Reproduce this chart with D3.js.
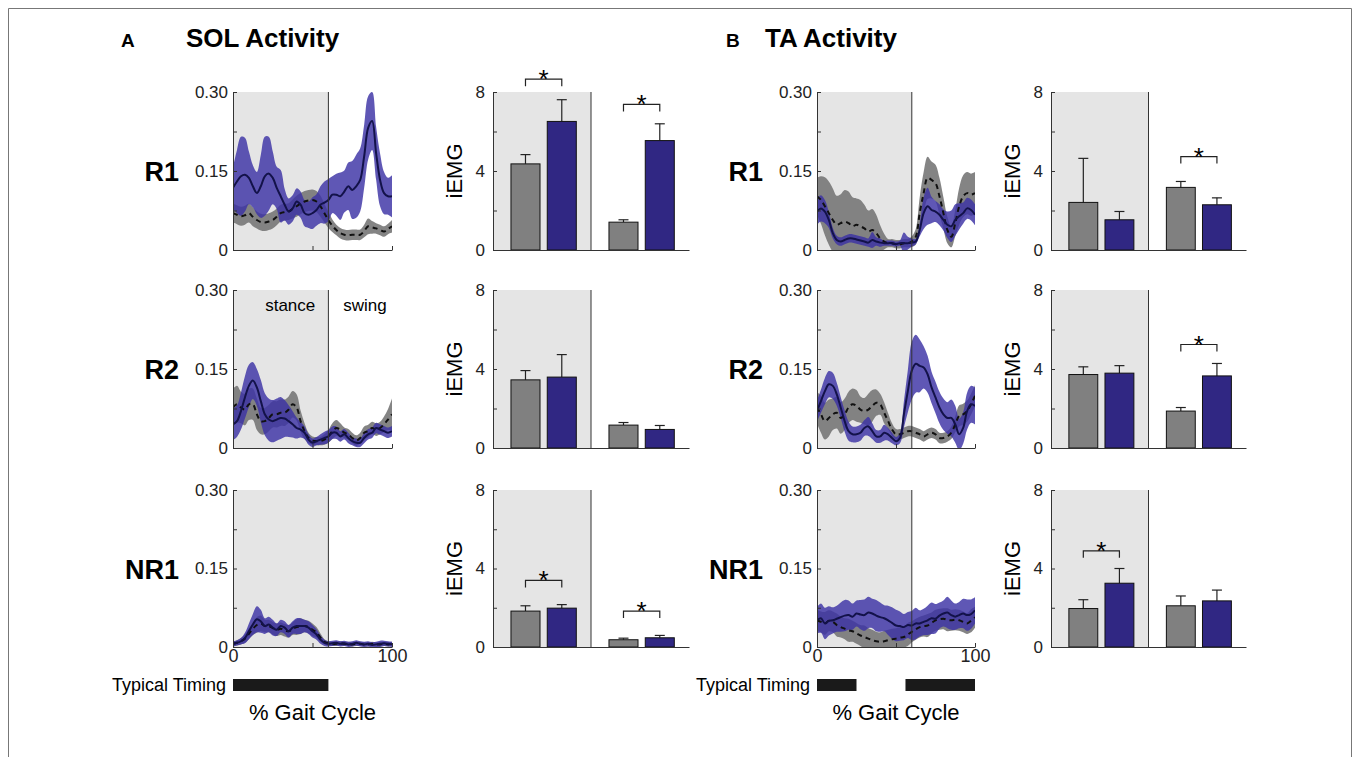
<!DOCTYPE html>
<html>
<head>
<meta charset="utf-8">
<script src="https://cdn.jsdelivr.net/npm/d3@7"></script>
<style>
  body { margin: 0; background: #fff; }
  svg { display: block; }
</style>
</head>
<body>
<svg id="fig" width="1360" height="757"></svg>
<script>
// % gait cycle sample points
const pct = [0, 2.5, 5, 7.5, 10, 12.5, 15, 17.5, 20, 22.5, 25, 27.5, 30, 32.5, 35, 37.5, 40, 42.5, 45, 47.5,
  50, 52.5, 55, 57.5, 60, 62.5, 65, 67.5, 70, 72.5, 75, 77.5, 80, 82.5, 85, 87.5, 90, 92.5, 95, 97.5, 100];

// ---- SOL EMG envelopes (mean and band half width) ----
const solR1BlueMean = [.118,.130,.140,.143,.137,.121,.108,.121,.140,.145,.137,.118,.102,.086,.073,.079,.092,.086,.070,.067,
  .070,.076,.086,.090,.095,.105,.105,.102,.111,.121,.114,.121,.133,.178,.232,.245,.184,.133,.108,.102,.102];
const solR1BlueSd = [.040,.060,.075,.070,.050,.040,.040,.060,.075,.070,.050,.040,.050,.030,.025,.025,.025,.025,.025,.025,
  .030,.030,.035,.040,.040,.035,.040,.045,.040,.045,.055,.060,.060,.060,.060,.055,.050,.050,.040,.035,.040];
const solR1GrayMean = [.070,.067,.064,.066,.070,.063,.057,.053,.052,.054,.057,.063,.070,.072,.073,.078,.083,.088,.092,.094,
  .095,.092,.083,.070,.057,.046,.038,.032,.029,.028,.029,.029,.029,.036,.045,.043,.041,.038,.035,.040,.045];
const solR1GraySd = [.018,.018,.018,.018,.018,.018,.016,.016,.016,.016,.016,.016,.016,.016,.016,.018,.020,.020,.020,.020,
  .020,.020,.020,.018,.015,.012,.010,.010,.010,.010,.010,.010,.010,.012,.015,.012,.010,.010,.010,.010,.012];

const solR2BlueMean = [.045,.051,.070,.096,.118,.128,.115,.089,.064,.054,.051,.054,.057,.056,.051,.045,.038,.035,.029,.016,
  .010,.013,.016,.019,.022,.029,.029,.022,.026,.019,.013,.010,.010,.019,.026,.029,.038,.035,.032,.029,.032];
const solR2BlueSd = [.030,.030,.035,.040,.040,.035,.035,.040,.040,.040,.040,.040,.040,.035,.030,.025,.020,.015,.012,.010,
  .008,.008,.010,.012,.012,.012,.012,.010,.010,.010,.008,.008,.008,.010,.010,.010,.010,.010,.010,.010,.010];
const solR2GrayMean = [.077,.083,.077,.073,.083,.083,.064,.051,.051,.057,.064,.064,.067,.067,.073,.083,.077,.051,.032,.019,
  .014,.013,.013,.016,.022,.032,.038,.035,.029,.026,.019,.014,.019,.029,.032,.038,.035,.038,.045,.054,.064];
const solR2GraySd = [.035,.035,.030,.030,.030,.030,.030,.025,.025,.025,.025,.025,.025,.025,.025,.025,.025,.020,.015,.010,
  .008,.008,.008,.010,.012,.015,.015,.012,.010,.010,.010,.010,.010,.012,.012,.012,.012,.012,.015,.020,.030];

const solNR1BlueMean = [.006,.008,.011,.017,.030,.043,.053,.049,.040,.043,.037,.033,.040,.037,.030,.037,.040,.040,.040,.037,
  .030,.024,.014,.008,.006,.007,.008,.006,.007,.005,.006,.008,.006,.005,.006,.004,.005,.006,.007,.006,.005];
const solNR1BlueSd = [.005,.005,.006,.010,.015,.020,.025,.022,.015,.015,.015,.012,.012,.012,.012,.012,.015,.015,.012,.012,
  .012,.010,.008,.006,.005,.005,.005,.005,.005,.005,.005,.005,.005,.005,.005,.005,.005,.006,.005,.005,.005];
const solNR1GrayMean = [.006,.008,.011,.016,.025,.035,.042,.045,.040,.040,.036,.033,.035,.032,.030,.035,.038,.040,.040,.038,
  .033,.028,.018,.010,.007,.006,.006,.007,.006,.006,.005,.006,.006,.005,.005,.006,.005,.005,.006,.005,.006];
const solNR1GraySd = [.004,.005,.006,.008,.010,.012,.015,.015,.012,.012,.012,.012,.012,.012,.012,.012,.015,.015,.012,.012,
  .012,.010,.008,.005,.004,.004,.004,.004,.004,.004,.004,.004,.004,.004,.004,.004,.004,.004,.004,.004,.004];

// ---- TA EMG envelopes ----
const taR1BlueMean = [.073,.079,.073,.057,.032,.019,.016,.019,.022,.022,.020,.018,.016,.014,.019,.016,.014,.013,.013,.013,
  .011,.013,.013,.013,.014,.016,.038,.070,.083,.076,.073,.067,.057,.048,.045,.057,.064,.070,.079,.076,.067];
const taR1BlueSd = [.025,.025,.022,.015,.010,.008,.008,.008,.008,.008,.008,.008,.008,.008,.015,.008,.008,.005,.005,.005,
  .005,.005,.020,.012,.008,.005,.012,.030,.035,.025,.020,.020,.020,.025,.030,.030,.025,.020,.020,.020,.020];
const taR1GrayMean = [.102,.095,.083,.070,.057,.048,.051,.054,.051,.045,.048,.045,.041,.035,.038,.032,.022,.016,.013,.013,
  .011,.011,.013,.013,.016,.025,.070,.108,.137,.133,.127,.102,.070,.038,.025,.051,.083,.102,.108,.105,.108];
const taR1GraySd = [.035,.045,.055,.060,.060,.055,.055,.060,.060,.055,.050,.050,.045,.040,.040,.035,.025,.015,.008,.008,
  .008,.008,.008,.008,.010,.015,.030,.040,.040,.035,.035,.035,.030,.025,.020,.025,.035,.040,.040,.040,.040];

const taR2BlueMean = [.070,.089,.108,.121,.118,.102,.077,.051,.032,.026,.026,.029,.038,.041,.032,.022,.022,.029,.026,.019,
  .013,.019,.064,.108,.147,.160,.156,.153,.140,.115,.096,.077,.064,.057,.057,.045,.026,.038,.070,.083,.080];
const taR2BlueSd = [.020,.022,.025,.025,.025,.022,.020,.020,.018,.015,.015,.015,.015,.018,.015,.012,.012,.015,.012,.010,
  .008,.010,.025,.040,.055,.055,.050,.040,.035,.030,.030,.030,.030,.030,.035,.035,.030,.030,.035,.035,.035];
const taR2GrayMean = [.077,.064,.051,.057,.064,.067,.057,.064,.077,.083,.080,.073,.070,.073,.080,.086,.083,.067,.051,.035,
  .026,.026,.029,.032,.032,.029,.026,.022,.026,.029,.026,.019,.019,.022,.029,.045,.061,.064,.070,.083,.099];
const taR2GraySd = [.030,.035,.035,.035,.030,.030,.030,.030,.030,.030,.030,.025,.025,.030,.030,.025,.020,.020,.015,.012,
  .010,.010,.010,.010,.010,.010,.010,.010,.010,.010,.010,.010,.010,.010,.012,.015,.020,.020,.020,.020,.020];

const taNR1BlueMean = [.051,.055,.045,.050,.051,.054,.057,.060,.061,.058,.064,.062,.061,.066,.064,.060,.057,.055,.051,.046,
  .041,.040,.038,.042,.041,.045,.045,.048,.051,.055,.054,.060,.064,.066,.061,.058,.061,.064,.061,.063,.070];
const taNR1BlueSd = [.025,.028,.030,.028,.025,.025,.028,.030,.028,.025,.025,.028,.030,.030,.028,.030,.028,.025,.028,.030,
  .030,.028,.025,.025,.028,.030,.025,.025,.028,.030,.028,.025,.025,.030,.028,.025,.025,.028,.030,.028,.025];
const taNR1GrayMean = [.051,.048,.045,.050,.048,.042,.038,.035,.032,.030,.026,.022,.019,.016,.013,.011,.010,.011,.013,.015,
  .016,.018,.019,.024,.029,.034,.038,.040,.041,.046,.051,.053,.054,.052,.051,.052,.051,.048,.045,.050,.057];
const taNR1GraySd = [.020,.020,.022,.020,.020,.022,.020,.020,.022,.020,.020,.020,.022,.020,.020,.018,.018,.020,.020,.020,
  .020,.020,.020,.022,.020,.020,.020,.020,.022,.020,.020,.020,.020,.022,.020,.020,.020,.020,.020,.022,.020];

// ---- iEMG bars: rows R1, R2, NR1 ; [stance, swing] ----
const phases = ["stance", "swing"];
const groups = ["typical", "robot"];
const solTypical    = [[4.36, 1.41], [3.45, 1.16], [1.83, 0.37]];
const solTypicalErr = [[0.47, 0.12], [0.47, 0.13], [0.27, 0.08]];
const solRobot      = [[6.51, 5.54], [3.59, 0.94], [1.98, 0.47]];
const solRobotErr   = [[1.10, 0.85], [1.14, 0.20], [0.18, 0.12]];
const solSig        = [[8.65, 7.37], [null, null], [3.39, 1.83]];

const taTypical     = [[2.41, 3.17], [3.72, 1.87], [1.96, 2.10]];
const taTypicalErr  = [[2.23, 0.30], [0.39, 0.18], [0.45, 0.50]];
const taRobot       = [[1.53, 2.29], [3.79, 3.65], [3.25, 2.35]];
const taRobotErr    = [[0.42, 0.35], [0.38, 0.63], [0.75, 0.55]];
const taSig         = [[null, 4.73], [null, 5.24], [4.90, null]];

// ticks and timing
const lineYTicks = [0, 0.075, 0.15, 0.225, 0.30];
const lineYLabels = ["0", "", "0.15", "", "0.30"];
const lineXTicks = [0, 50, 100];
const lineXLabels = ["0", "", "100"];
const barYTicks = [0, 2, 4, 6, 8];
const barYLabels = ["0", "", "4", "", "8"];
const stanceEnd = 60;
const solTiming = [[0, 60]];
const taTiming = [[0, 25], [56, 100]];

// ---------------------------------------------------------------
const FONT = '"Liberation Sans", Arial, Helvetica, sans-serif';
const GRAY_BG = "#e5e5e5";
const BAR_GRAY = "#808080";
const BAR_BLUE = "#302783";
const svg = d3.select("#fig");

// frame
svg.append("path")
  .attr("d", "M8.5,757V8.5H1351.5V757")
  .attr("fill", "none")
  .attr("stroke", "#777")
  .attr("stroke-width", 1);

const rowNames = ["R1", "R2", "NR1"];
const rowBox = [[92, 250], [290, 448], [490, 647]];

const cols = [
  {
    letter: "A", title: "SOL Activity", letterX: 121, titleX: 186,
    lx0: 233, lx1: 392, bx0: 493, bx1: 689, timing: solTiming,
    curves: [
      [solR1BlueMean, solR1BlueSd, solR1GrayMean, solR1GraySd],
      [solR2BlueMean, solR2BlueSd, solR2GrayMean, solR2GraySd],
      [solNR1BlueMean, solNR1BlueSd, solNR1GrayMean, solNR1GraySd]
    ],
    typ: solTypical, typErr: solTypicalErr, rob: solRobot, robErr: solRobotErr, sig: solSig
  },
  {
    letter: "B", title: "TA Activity", letterX: 726, titleX: 765,
    lx0: 817, lx1: 975, bx0: 1051, bx1: 1246, timing: taTiming,
    curves: [
      [taR1BlueMean, taR1BlueSd, taR1GrayMean, taR1GraySd],
      [taR2BlueMean, taR2BlueSd, taR2GrayMean, taR2GraySd],
      [taNR1BlueMean, taNR1BlueSd, taNR1GrayMean, taNR1GraySd]
    ],
    typ: taTypical, typErr: taTypicalErr, rob: taRobot, robErr: taRobotErr, sig: taSig
  }
];

function styleAxis(g, size) {
  g.attr("font-family", FONT).attr("font-size", size).attr("color", "#222");
  g.selectAll(".domain").attr("stroke", "#333");
  g.selectAll(".tick line").attr("stroke", "#333");
}

cols.forEach((c, ci) => {
  // headings
  svg.append("text").attr("x", c.letterX).attr("y", 47)
    .attr("font-family", FONT).attr("font-weight", "bold").attr("font-size", 19)
    .text(c.letter);
  svg.append("text").attr("x", c.titleX).attr("y", 47)
    .attr("font-family", FONT).attr("font-weight", "bold").attr("font-size", 26)
    .text(c.title);

  rowBox.forEach(([top, bot], ri) => {
    const isBottom = ri === rowBox.length - 1;

    // ---------- EMG envelope panel ----------
    const x = d3.scaleLinear().domain([0, 100]).range([c.lx0, c.lx1]);
    const y = d3.scaleLinear().domain([0, 0.3]).range([bot, top]);
    const g = svg.append("g");

    g.append("rect")
      .attr("x", x(0)).attr("y", top)
      .attr("width", x(stanceEnd) - x(0)).attr("height", bot - top)
      .attr("fill", GRAY_BG);

    const clipId = `clip-${ci}-${ri}`;
    svg.append("clipPath").attr("id", clipId)
      .append("rect").attr("x", c.lx0).attr("y", top)
      .attr("width", c.lx1 - c.lx0).attr("height", bot - top);

    const [bMean, bSd, gMean, gSd] = c.curves[ri];
    const toPts = (m, s) => pct.map((p, i) => ({ p, m: m[i], s: s[i] }));
    const bluePts = toPts(bMean, bSd);
    const grayPts = toPts(gMean, gSd);

    const band = d3.area()
      .x(d => x(d.p))
      .y0(d => y(d.m - d.s))
      .y1(d => y(d.m + d.s))
      .curve(d3.curveCatmullRom);
    const line = d3.line()
      .x(d => x(d.p))
      .y(d => y(d.m))
      .curve(d3.curveCatmullRom);

    const plot = g.append("g").attr("clip-path", `url(#${clipId})`);
    plot.append("path").datum(grayPts).attr("d", band)
      .attr("fill", "#7a7a7a").attr("fill-opacity", 0.92);
    plot.append("path").datum(bluePts).attr("d", band)
      .attr("fill", "#3c32a5").attr("fill-opacity", 0.82);
    plot.append("path").datum(grayPts).attr("d", line)
      .attr("fill", "none").attr("stroke", "#111").attr("stroke-width", 2)
      .attr("stroke-dasharray", "5,4");
    plot.append("path").datum(bluePts).attr("d", line)
      .attr("fill", "none").attr("stroke", "#13124a").attr("stroke-width", 2);

    g.append("line")
      .attr("x1", x(stanceEnd)).attr("x2", x(stanceEnd))
      .attr("y1", bot).attr("y2", top)
      .attr("stroke", "#333").attr("stroke-width", 1);

    const yAxis = g.append("g")
      .attr("transform", `translate(${c.lx0},0)`)
      .call(d3.axisLeft(y).tickValues(lineYTicks)
        .tickFormat((d, i) => lineYLabels[i])
        .tickSizeInner(-4).tickSizeOuter(0).tickPadding(5));
    styleAxis(yAxis, 17);

    const xAxis = g.append("g")
      .attr("transform", `translate(0,${bot})`)
      .call(d3.axisBottom(x).tickValues(lineXTicks)
        .tickFormat((d, i) => isBottom ? lineXLabels[i] : "")
        .tickSizeInner(-4).tickSizeOuter(0).tickPadding(2));
    styleAxis(xAxis, 18);

    // row label
    svg.append("text")
      .attr("x", c.lx0 - 54).attr("y", y(0.15) + 10)
      .attr("text-anchor", "end")
      .attr("font-family", FONT).attr("font-weight", "bold").attr("font-size", 27)
      .text(rowNames[ri]);

    // stance / swing labels (SOL R2 only)
    if (ci === 0 && ri === 1) {
      g.append("text").attr("x", x(36)).attr("y", y(0.26))
        .attr("text-anchor", "middle").attr("font-family", FONT).attr("font-size", 17)
        .text("stance");
      g.append("text").attr("x", x(83)).attr("y", y(0.26))
        .attr("text-anchor", "middle").attr("font-family", FONT).attr("font-size", 17)
        .text("swing");
    }

    // typical timing + x label
    if (isBottom) {
      c.timing.forEach(([a, b]) => {
        svg.append("rect")
          .attr("x", x(a)).attr("y", 679)
          .attr("width", x(b) - x(a)).attr("height", 12)
          .attr("fill", "#1a1a1a");
      });
      svg.append("text")
        .attr("x", c.lx0 - 7).attr("y", 691)
        .attr("text-anchor", "end")
        .attr("font-family", FONT).attr("font-size", 18)
        .text("Typical Timing");
      svg.append("text")
        .attr("x", (c.lx0 + c.lx1) / 2).attr("y", 720)
        .attr("text-anchor", "middle")
        .attr("font-family", FONT).attr("font-size", 22)
        .text("% Gait Cycle");
    }

    // ---------- iEMG bar panel ----------
    const yb = d3.scaleLinear().domain([0, 8]).range([bot, top]);
    const xp = d3.scaleBand().domain(phases).range([c.bx0, c.bx1]);
    const xg = d3.scaleBand().domain(groups).range([0, xp.bandwidth()])
      .paddingInner(0.2).paddingOuter(0.45).align(0.55);
    const gb = svg.append("g");

    gb.append("rect")
      .attr("x", xp("stance")).attr("y", top)
      .attr("width", xp.bandwidth()).attr("height", bot - top)
      .attr("fill", GRAY_BG);
    gb.append("line")
      .attr("x1", xp("swing")).attr("x2", xp("swing"))
      .attr("y1", bot).attr("y2", top)
      .attr("stroke", "#333").attr("stroke-width", 1);

    const barData = [];
    phases.forEach((ph, pi) => {
      barData.push({ ph, grp: "typical", v: c.typ[ri][pi], e: c.typErr[ri][pi], fill: BAR_GRAY });
      barData.push({ ph, grp: "robot", v: c.rob[ri][pi], e: c.robErr[ri][pi], fill: BAR_BLUE });
    });

    const bx = d => xp(d.ph) + xg(d.grp);
    const bcx = d => bx(d) + xg.bandwidth() / 2;

    // error bars (upper only)
    gb.selectAll(".err").data(barData).join("line")
      .attr("x1", bcx).attr("x2", bcx)
      .attr("y1", d => yb(d.v)).attr("y2", d => yb(d.v + d.e))
      .attr("stroke", "#222").attr("stroke-width", 1.2);
    gb.selectAll(".cap").data(barData).join("line")
      .attr("x1", d => bcx(d) - 5).attr("x2", d => bcx(d) + 5)
      .attr("y1", d => yb(d.v + d.e)).attr("y2", d => yb(d.v + d.e))
      .attr("stroke", "#222").attr("stroke-width", 1.2);

    gb.selectAll(".bar").data(barData).join("rect")
      .attr("x", bx).attr("y", d => yb(d.v))
      .attr("width", xg.bandwidth()).attr("height", d => yb(0) - yb(d.v))
      .attr("fill", d => d.fill)
      .attr("stroke", "#111").attr("stroke-width", 1);

    // significance brackets
    phases.forEach((ph, pi) => {
      const lvl = c.sig[ri][pi];
      if (lvl == null) return;
      const xa = xp(ph) + xg("typical") + xg.bandwidth() / 2;
      const xbb = xp(ph) + xg("robot") + xg.bandwidth() / 2;
      const yy = yb(lvl);
      gb.append("path")
        .attr("d", `M${xa},${yy + 7}V${yy}H${xbb}V${yy + 7}`)
        .attr("fill", "none").attr("stroke", "#222").attr("stroke-width", 1.2);
      gb.append("text")
        .attr("x", (xa + xbb) / 2).attr("y", yy + 9)
        .attr("text-anchor", "middle")
        .attr("font-family", FONT).attr("font-size", 26)
        .text("*");
    });

    const byAxis = gb.append("g")
      .attr("transform", `translate(${c.bx0},0)`)
      .call(d3.axisLeft(yb).tickValues(barYTicks)
        .tickFormat((d, i) => barYLabels[i])
        .tickSizeInner(-4).tickSizeOuter(0).tickPadding(8));
    styleAxis(byAxis, 17);

    const bxAxis = gb.append("g")
      .attr("transform", `translate(0,${bot})`)
      .call(d3.axisBottom(d3.scaleLinear().range([c.bx0, c.bx1])).tickValues([]).tickSizeOuter(0));
    styleAxis(bxAxis, 17);

    gb.append("text")
      .attr("transform", `translate(${c.bx0 - 31},${(top + bot) / 2}) rotate(-90)`)
      .attr("text-anchor", "middle")
      .attr("font-family", FONT).attr("font-size", 22)
      .text("iEMG");
  });
});
</script>
</body>
</html>
